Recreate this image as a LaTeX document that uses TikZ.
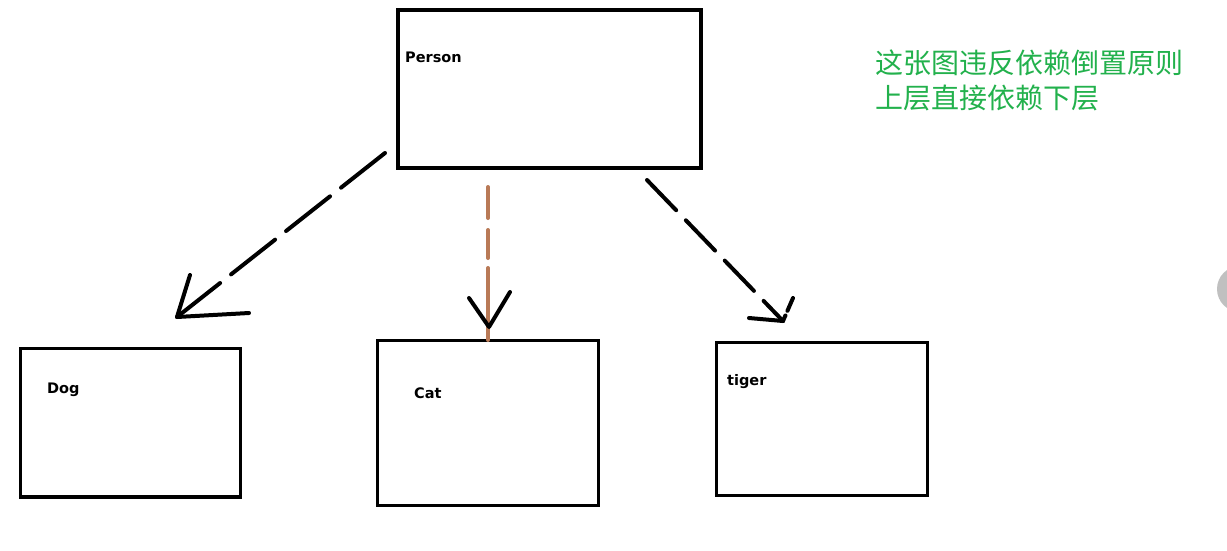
\documentclass[tikz,border=0pt]{standalone}
\usepackage{fontspec}
\newfontfamily\labelfont{DejaVu Sans}
\newfontfamily\cjkfont{Noto Sans CJK SC}
\definecolor{paintgreen}{RGB}{34,177,76}
\definecolor{paintbrown}{RGB}{185,122,87}
\definecolor{uigray}{RGB}{192,192,192}
\begin{document}
\begin{tikzpicture}[x=1pt,y=-1pt,
  box/.style={draw=black, fill=none, inner sep=0pt, outer sep=0pt, line width=3.8pt},
  lbl/.style={anchor=west, inner sep=0pt, font=\labelfont\bfseries\fontsize{14.5}{16}\selectfont},
  note/.style={anchor=west, inner sep=0pt, text=paintgreen, font=\cjkfont\fontsize{28}{30}\selectfont},
  link/.style={line width=4pt, line cap=round},
  head/.style={line width=4pt, line cap=round, line join=round}]
\useasboundingbox (0,0) rectangle (1227,550);
\fill[white] (0,0) rectangle (1227,550);

% boxes
\node[box, line width=4.5pt, minimum width=303pt, minimum height=158pt] (person) at (549.5,89) {};
\node[box, minimum width=220pt, minimum height=148.5pt] (dog) at (130.5,422.75) {};
\node[box, minimum width=221pt, minimum height=165pt] (cat) at (488,423) {};
\node[box, minimum width=211pt, minimum height=153pt] (tiger) at (822,419) {};

% labels
\node[lbl] (tperson) at (405,57) {Person};
\node[lbl] (tdog) at (47,390) {Dog};
\node[lbl] (tcat) at (414,393) {Cat};
\node[lbl] (ttiger) at (727,382) {tiger};

% note
\node[note] (note1) at (875,63) {这张图违反依赖倒置原则};
\node[note] (note2) at (875,98) {上层直接依赖下层};

% connector end points
\coordinate (dogs) at (385,153);
\coordinate (dogt) at (177,317);
\coordinate (dogl) at (190,275);
\coordinate (dogr) at (249,313);
\coordinate (cats) at (488,187);
\coordinate (catt) at (488,340);
\coordinate (catv) at (489,327);
\coordinate (catl) at (469,298);
\coordinate (catr) at (510,292);
\coordinate (tigs) at (647,180);
\coordinate (tigt) at (783,321);
\coordinate (tigl) at (749,318);
\coordinate (tigr) at (793,298);

% Person -> Dog
\draw[link, dash pattern=on 56pt off 14pt] (dogs) -- (dogt);
\draw[head] (dogl) -- (dogt) -- (dogr);

% Person -> Cat
\draw[link, color=paintbrown, dash pattern=on 31pt off 12pt on 28pt off 10pt on 80pt] (cats) -- (catt);
\draw[head] (catl) -- (catv) -- (catr);

% Person -> tiger
\draw[link, dash pattern=on 42pt off 14pt] (tigs) -- (tigt);
\draw[head] (tigl) -- (tigt);
\draw[head, dash pattern=on 14pt off 5pt on 20pt] (tigr) -- (tigt);

% ui element at right edge
\fill[uigray] (1240,289) circle (23);
\end{tikzpicture}
\end{document}
